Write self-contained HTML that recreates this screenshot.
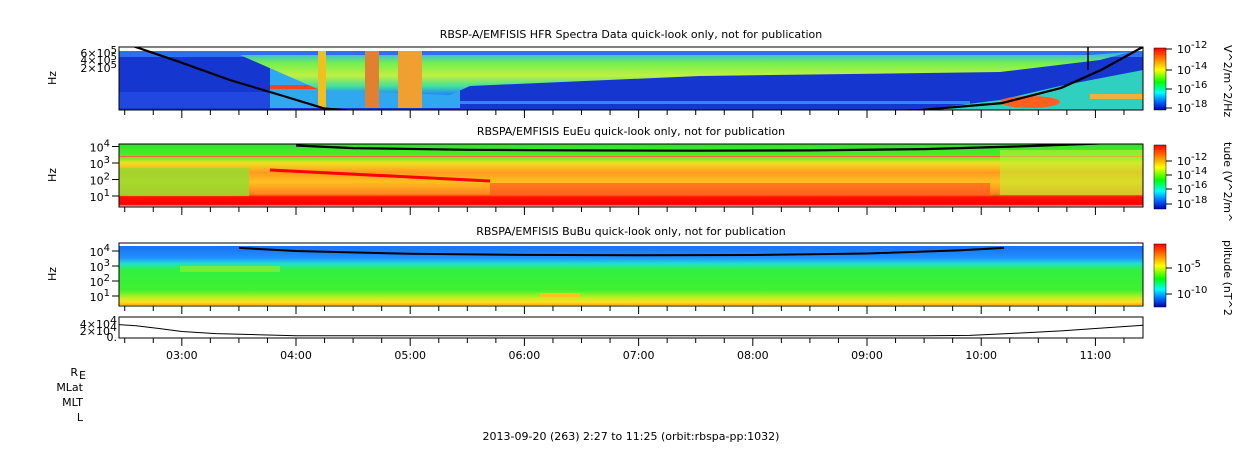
<!DOCTYPE html>
<html><head><meta charset="utf-8"><style>
html,body{margin:0;padding:0;background:#fff;}
svg{display:block;font-family:"DejaVu Sans","Liberation Sans",sans-serif;}
text{fill:#000;font-size:11px;}
</style></head><body>
<svg id="chart" width="1250" height="449" viewBox="0 0 1250 449" xmlns="http://www.w3.org/2000/svg">
<defs>
<linearGradient id="cmap" x1="0" y1="0" x2="0" y2="1">
<stop offset="0" stop-color="#ff0000"/><stop offset="0.18" stop-color="#ff8000"/><stop offset="0.35" stop-color="#ffff00"/><stop offset="0.55" stop-color="#00ff00"/><stop offset="0.72" stop-color="#00ffff"/><stop offset="0.86" stop-color="#0070ff"/><stop offset="1" stop-color="#0000b0"/>
</linearGradient>
<linearGradient id="p2base" x1="0" y1="0" x2="0" y2="1">
<stop offset="0" stop-color="#30e030"/><stop offset="0.2" stop-color="#50f020"/><stop offset="0.3" stop-color="#f0e020"/><stop offset="0.45" stop-color="#ff9a20"/><stop offset="0.6" stop-color="#ffc020"/><stop offset="0.8" stop-color="#ff8020"/><stop offset="0.84" stop-color="#ff1000"/><stop offset="0.96" stop-color="#ff0000"/><stop offset="1" stop-color="#ffffff"/>
</linearGradient>
<linearGradient id="p3base" x1="0" y1="0" x2="0" y2="1">
<stop offset="0" stop-color="#1a70f0"/><stop offset="0.2" stop-color="#2090ff"/><stop offset="0.3" stop-color="#20e0d0"/><stop offset="0.4" stop-color="#30f040"/><stop offset="0.75" stop-color="#40f030"/><stop offset="0.88" stop-color="#c0f020"/><stop offset="0.95" stop-color="#ffe020"/><stop offset="1" stop-color="#ffb010"/>
</linearGradient>
<linearGradient id="p1band" x1="0" y1="0" x2="0" y2="1">
<stop offset="0" stop-color="#30b0ff"/><stop offset="0.25" stop-color="#70f050"/><stop offset="0.55" stop-color="#c0f040"/><stop offset="0.8" stop-color="#40e0a0"/><stop offset="1" stop-color="#2080ff"/>
</linearGradient>
<clipPath id="c1"><rect x="119" y="47" width="1024" height="63"/></clipPath>
<clipPath id="c2"><rect x="119" y="144" width="1024" height="63"/></clipPath>
<clipPath id="c3"><rect x="119" y="243" width="1024" height="63"/></clipPath>
</defs>

<text x="631" y="38" text-anchor="middle">RBSP-A/EMFISIS  HFR Spectra Data quick-look only, not for publication</text>
<text x="631" y="135" text-anchor="middle">RBSPA/EMFISIS  EuEu quick-look only, not for publication</text>
<text x="631" y="235" text-anchor="middle">RBSPA/EMFISIS  BuBu quick-look only, not for publication</text>

<g clip-path="url(#c1)">
<rect x="119" y="47" width="1024" height="63" fill="#ffffff"/>
<rect x="119" y="51" width="1024" height="59" fill="#1636d0"/>
<rect x="119" y="51" width="1024" height="6" fill="#2a70f0"/>
<rect x="119" y="92" width="160" height="16" fill="#2048e0"/>
<polygon points="270,60 300,78 320,84 460,88 460,108 270,108" fill="#30a8f0"/>
<rect x="270" y="85" width="190" height="4" fill="#ff4020"/>
<polygon points="240,55 1090,55 1130,52 1100,60 1000,72 700,76 470,86 450,95 320,90" fill="url(#p1band)"/>
<rect x="318" y="51" width="8" height="57" fill="#f0c020"/>
<rect x="365" y="51" width="14" height="57" fill="#e08030"/>
<rect x="398" y="51" width="24" height="57" fill="#f0a030"/>
<rect x="460" y="101" width="510" height="3" fill="#3a80ff"/>
<polygon points="920,110 1000,100 1060,86 1143,70 1143,110" fill="#30d0c0"/>
<ellipse cx="1030" cy="102" rx="30" ry="6" fill="#ff6020"/>
<rect x="1090" y="94" width="53" height="5" fill="#f0b040"/>
<polyline id="curve1" fill="none" stroke="#000" stroke-width="2.2"/>
<line x1="1088" y1="47" x2="1088" y2="70" stroke="#000" stroke-width="1.5"/>
</g>
<rect x="119" y="47" width="1024" height="63" fill="none" stroke="#000"/>

<g clip-path="url(#c2)">
<rect x="119" y="144" width="1024" height="63" fill="url(#p2base)"/>
<rect x="119" y="168" width="130" height="28" fill="#90e030" opacity="0.8"/>
<rect x="119" y="156" width="1024" height="1" fill="#ff6040"/>
<rect x="490" y="183" width="500" height="13" fill="#ff5020" opacity="0.6"/>
<rect x="1000" y="150" width="143" height="45" fill="#c0f030" opacity="0.6"/>
<line x1="270" y1="170" x2="490" y2="181" stroke="#ff0000" stroke-width="3"/>
<polyline id="curve2" fill="none" stroke="#000" stroke-width="2.2"/>
</g>
<rect x="119" y="144" width="1024" height="63" fill="none" stroke="#000"/>

<g clip-path="url(#c3)">
<rect x="119" y="243" width="1024" height="63" fill="#fff"/>
<rect x="119" y="246" width="1024" height="59" fill="url(#p3base)"/>
<rect x="180" y="266" width="100" height="6" fill="#90f030" opacity="0.7"/>
<rect x="540" y="293" width="40" height="4" fill="#ffc020"/>
<polyline id="curve3" fill="none" stroke="#000" stroke-width="2"/>
</g>
<rect x="119" y="243" width="1024" height="63" fill="none" stroke="#000"/>

<rect x="119" y="317" width="1024" height="21" fill="none" stroke="#000"/>
<polyline id="line4" fill="none" stroke="#000" stroke-width="1"/>

<g id="ticks"></g>
<g id="tlabels"></g>

<text transform="translate(56,78) rotate(-90)" text-anchor="middle">Hz</text>
<text transform="translate(56,175) rotate(-90)" text-anchor="middle">Hz</text>
<text transform="translate(56,274) rotate(-90)" text-anchor="middle">Hz</text>

<g>
<text x="117" y="57" text-anchor="end">6×10<tspan dy="-4" font-size="10">5</tspan></text>
<text x="117" y="64" text-anchor="end">4×10<tspan dy="-4" font-size="10">5</tspan></text>
<text x="117" y="72" text-anchor="end">2×10<tspan dy="-4" font-size="10">5</tspan></text>
</g>
<g id="yt2"></g>
<g id="yt3"></g>
<g>
<text x="117" y="328" text-anchor="end">4×10<tspan dy="-4">4</tspan></text>
<text x="117" y="335" text-anchor="end">2×10<tspan dy="-4">4</tspan></text>
<text x="117" y="341" text-anchor="end">0.</text>
</g>

<rect x="1154" y="48" width="12" height="62" fill="url(#cmap)" stroke="#000" stroke-width="0.5"/>
<rect x="1154" y="145" width="12" height="64" fill="url(#cmap)" stroke="#000" stroke-width="0.5"/>
<rect x="1154" y="244" width="12" height="63" fill="url(#cmap)" stroke="#000" stroke-width="0.5"/>
<g id="cbl"></g>
<text transform="translate(1224,45) rotate(90)">V^2/m^2/Hz</text>
<text transform="translate(1224,142) rotate(90)">tude (V^2/m^</text>
<text transform="translate(1224,240) rotate(90)">plitude (nT^2</text>

<g>
<text x="78" y="376" text-anchor="end">R</text><text x="79" y="379" font-size="6">E</text>
<text x="83" y="391" text-anchor="end">MLat</text>
<text x="83" y="406" text-anchor="end">MLT</text>
<text x="83" y="421" text-anchor="end">L</text>
</g>
<text x="631" y="440" text-anchor="middle">2013-09-20 (263) 2:27 to 11:25 (orbit:rbspa-pp:1032)</text>

<script>
const tStart = 2 + 27/60, tEnd = 11 + 25/60;
const hourLabels = ["03:00","04:00","05:00","06:00","07:00","08:00","09:00","10:00","11:00"];
const hourValues = [3,4,5,6,7,8,9,10,11];
// HFR black curve (hours, Hz)
const c1Hours = [2.55, 2.98, 3.42, 3.86, 4.25, 4.6, 9.0, 9.47, 10.18, 10.70, 11.05, 11.40, 11.45];
const c1Freq = [2.2e6, 3.2e5, 4.0e4, 7.1e3, 1.5e3, 1.0e3, 1.0e3, 1.26e3, 2.8e3, 1.6e4, 1.26e5, 1.6e6, 2.0e6];
// EuEu cyclotron-like curve (hours, Hz)
const c2Hours = [4.0, 4.5, 5.5, 6.5, 7.5, 8.5, 9.5, 10.3, 11.0, 11.42];
const c2Freq = [1.15e4, 8.0e3, 6.3e3, 5.8e3, 5.6e3, 5.8e3, 7.0e3, 1.0e4, 1.5e4, 2.0e4];
// BuBu curve (hours, Hz)
const c3Hours = [3.5, 4.0, 5.0, 6.0, 7.0, 8.0, 9.0, 9.8, 10.2];
const c3Freq = [1.6e4, 1.0e4, 6.5e3, 5.5e3, 5.2e3, 5.4e3, 6.8e3, 1.1e4, 1.6e4];
// ephemeris line (hours, value)
const eHours = [2.45, 2.6, 2.8, 3.0, 3.3, 3.6, 4.0, 9.5, 9.9, 10.3, 10.7, 11.0, 11.42];
const eVals = [38000, 34000, 25000, 15000, 8000, 5000, 1000, 1000, 2000, 9000, 17000, 25000, 36000];

const X = h => 119 + (h - tStart) / (tEnd - tStart) * 1024;
const Y1 = f => 66 - 20 * Math.log10(f / 2e5);
const Y2 = f => 196 - 16.5 * (Math.log10(f) - 1);
const Y3 = f => 296 - 15 * (Math.log10(f) - 1);
const Y4 = v => 336 - v / 20000 * 6;
const pts = (hs, vs, yf) => hs.map((h, i) => X(h).toFixed(1) + "," + yf(vs[i]).toFixed(1)).join(" ");
document.getElementById("curve1").setAttribute("points", pts(c1Hours, c1Freq, Y1));
document.getElementById("curve2").setAttribute("points", pts(c2Hours, c2Freq, Y2));
document.getElementById("curve3").setAttribute("points", pts(c3Hours, c3Freq, Y3));
document.getElementById("line4").setAttribute("points", pts(eHours, eVals, Y4));

const NS = "http://www.w3.org/2000/svg";
function supText(x, y, base, exp, anchor) {
  const t = document.createElementNS(NS, "text");
  t.setAttribute("x", x); t.setAttribute("y", y);
  if (anchor) t.setAttribute("text-anchor", anchor);
  t.appendChild(document.createTextNode(base));
  const s = document.createElementNS(NS, "tspan");
  s.setAttribute("dy", "-5"); s.setAttribute("font-size", "10");
  s.textContent = exp;
  t.appendChild(s);
  return t;
}
const tg = document.getElementById("ticks");
const bottoms = [110, 207, 306, 338];
for (let q = Math.ceil(tStart * 4); q <= Math.floor(tEnd * 4); q++) {
  const h = q / 4, x = X(h), major = q % 4 === 0;
  bottoms.forEach(b => {
    const l = document.createElementNS(NS, "line");
    l.setAttribute("x1", x); l.setAttribute("x2", x);
    l.setAttribute("y1", b); l.setAttribute("y2", b + (major ? 8 : 5));
    l.setAttribute("stroke", "#000");
    
    
    tg.appendChild(l);
  });
}
const tl = document.getElementById("tlabels");
hourValues.forEach((h, i) => {
  const t = document.createElementNS(NS, "text");
  t.setAttribute("x", X(h)); t.setAttribute("y", 359); t.setAttribute("text-anchor", "middle");
  t.textContent = hourLabels[i];
  
  
  tl.appendChild(t);
});
function decadeLabels(gid, yf, exps) {
  const g = document.getElementById(gid);
  exps.forEach(e => {
    const y = yf(Math.pow(10, e));
    const t = supText(110, y + 5, "10", String(e), "end");
    
    
    g.appendChild(t);
    const l = document.createElementNS(NS, "line");
    l.setAttribute("x1", 112); l.setAttribute("x2", 119);
    l.setAttribute("y1", y); l.setAttribute("y2", y);
    l.setAttribute("stroke", "#000");
    
    
    g.appendChild(l);
  });
}
decadeLabels("yt2", Y2, [1, 2, 3, 4]);
decadeLabels("yt3", Y3, [1, 2, 3, 4]);
const cbY = [53, 74, 93, 112, 165, 179, 193, 208, 272, 298];
const cbExp = ["-12", "-14", "-16", "-18", "-12", "-14", "-16", "-18", "-5", "-10"];
const cg = document.getElementById("cbl");
cbY.forEach((y, i) => {
  const t = supText(1177, y, "10", cbExp[i]);
  
  
  cg.appendChild(t);
  const l = document.createElementNS(NS, "line");
  l.setAttribute("x1", 1166); l.setAttribute("x2", 1172);
  l.setAttribute("y1", y - 4); l.setAttribute("y2", y - 4);
  l.setAttribute("stroke", "#000");
  
  
  cg.appendChild(l);
});
</script>
</svg>
</body></html>
